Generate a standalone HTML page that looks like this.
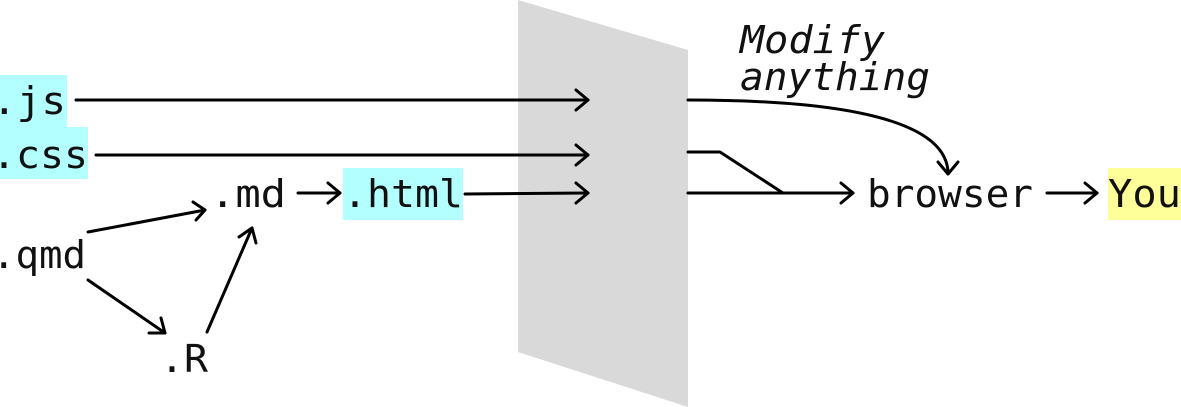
<!DOCTYPE html>
<html><head><meta charset="utf-8"><style>
html,body{margin:0;padding:0;background:#fff;}
svg{display:block;}
text{font-family:"DejaVu Sans Mono","Liberation Mono",monospace;font-size:38px;fill:#111;}
</style></head><body>
<svg width="1181" height="407" viewBox="0 0 1181 407" xmlns="http://www.w3.org/2000/svg">
<polygon points="518,0 688,50 688,407 518,352" fill="#d9d9d9"/>
<rect x="0" y="75" width="67" height="52" fill="#b3ffff"/>
<rect x="0" y="127" width="88" height="52" fill="#b3ffff"/>
<rect x="343" y="168" width="120" height="52" fill="#b3ffff"/>
<rect x="1108" y="168" width="73" height="52" fill="#ffff99"/>
<text x="-8" y="114" textLength="74" lengthAdjust="spacingAndGlyphs">.js</text>
<text x="-8" y="168" textLength="96" lengthAdjust="spacingAndGlyphs">.css</text>
<text x="343" y="207" textLength="120" lengthAdjust="spacingAndGlyphs">.html</text>
<text x="210" y="207" textLength="76" lengthAdjust="spacingAndGlyphs">.md</text>
<text x="-8" y="268" textLength="94" lengthAdjust="spacingAndGlyphs">.qmd</text>
<text x="160" y="372" textLength="48" lengthAdjust="spacingAndGlyphs">.R</text>
<text x="867" y="207" textLength="166" lengthAdjust="spacingAndGlyphs">browser</text>
<text x="1108" y="207" textLength="73" lengthAdjust="spacingAndGlyphs">You</text>
<text x="740" y="53" font-style="italic" textLength="145" lengthAdjust="spacingAndGlyphs">Modify</text>
<text x="740" y="90" font-style="italic" textLength="190" lengthAdjust="spacingAndGlyphs">anything</text>
<g stroke="#000" stroke-width="3" fill="none" stroke-linecap="round" stroke-linejoin="round">
<line x1="76" y1="100" x2="588" y2="100"/><polyline points="576,90 588,100 576,110"/>
<line x1="96" y1="155" x2="588" y2="155"/><polyline points="576,145 588,155 576,165"/>
<line x1="465" y1="194" x2="588" y2="193"/><polyline points="576,183 588,193 576,203"/>
<line x1="298" y1="193" x2="340" y2="193"/><polyline points="328,183 340,193 328,203"/>
<line x1="1047" y1="193" x2="1097" y2="193"/><polyline points="1085,183 1097,193 1085,203"/>
<line x1="688" y1="193" x2="853" y2="193"/><polyline points="841,183 853,193 841,203"/>
<polyline points="688,152 720,152 783,193"/>
<path d="M688,100 C800,100 945,110 948,172"/><polyline points="938,162 948,174 958,162"/>
<line x1="88" y1="232" x2="205" y2="210"/><polyline points="193,202 205,210 196,220"/>
<line x1="88" y1="280" x2="165" y2="333"/><polyline points="149,333 165,333 161,318"/>
<line x1="207" y1="332" x2="252" y2="228"/><polyline points="239,237 252,228 256,243"/>
</g>
</svg>
</body></html>
